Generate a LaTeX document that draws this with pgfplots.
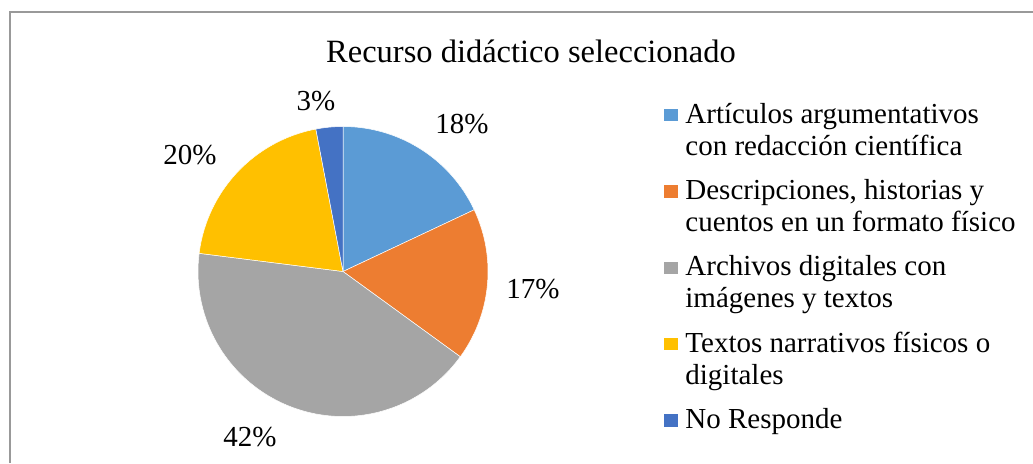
\documentclass[border=0pt]{standalone}
\usepackage{fontspec}
\setmainfont{Liberation Serif}
\usepackage{pgfplots}
\pgfplotsset{compat=1.18}
\usepackage{pgfplotstable}

\definecolor{c1}{HTML}{5B9BD5}
\definecolor{c2}{HTML}{ED7D31}
\definecolor{c3}{HTML}{A5A5A5}
\definecolor{c4}{HTML}{FFC000}
\definecolor{c5}{HTML}{4472C4}

\pgfplotstableread{
value color
18 c1
17 c2
42 c3
20 c4
3 c5
}\piedata

\newcommand{\lab}[1]{\begin{tabular}[t]{@{}l@{}}#1\end{tabular}}

\begin{document}
\begin{tikzpicture}[x=0.5pt,y=0.5pt]
\useasboundingbox (0,0) rectangle (1033,463);
\draw[color=black!40, line width=1pt] (10,0) -- (10,451) -- (1033,451);
\node[anchor=base, inner sep=0pt, font=\fontsize{16.25}{19}\selectfont] at (531,401) {Recurso didáctico seleccionado};
\begin{axis}[
  at={(171.5pt,95.75pt)}, anchor=center,
  scale only axis, width=145pt, height=145pt,
  xmin=-1, xmax=1, ymin=-1, ymax=1,
  hide axis, clip=false,
  legend image code/.code={\fill[#1, draw=none] (0pt,1pt) rectangle (7pt,7.2pt);},
  legend cell align=left,
  legend style={at={(1.607,1.0903)}, anchor=north west, draw=none, fill=none,
    inner sep=0pt, row sep=25.5pt, column sep=3.5pt,
    font=\fontsize{14.5}{16}\selectfont,
    nodes={inner sep=0pt, anchor=base west}},
]
\def\cum{0}
\pgfplotsforeachungrouped \i in {0,...,4}{
  \pgfplotstablegetelem{\i}{color}\of\piedata
  \edef\col{\pgfplotsretval}
  \pgfplotstablegetelem{\i}{value}\of\piedata
  \pgfmathsetmacro\a{90-3.6*(\cum+\pgfplotsretval)}
  \pgfmathsetmacro\b{90-3.6*\cum}
  \pgfmathsetmacro\newcum{\cum+\pgfplotsretval}
  \xdef\cum{\newcum}
  \edef\temp{\noexpand\addplot[fill=\col, draw=white, line width=0.25pt, domain=\a:\b, samples=90, variable=\noexpand\t] ({cos(\noexpand\t)},{sin(\noexpand\t)}) -- (axis cs:0,0) -- cycle;}
  \temp
}
\legend{{\lab{Artículos argumentativos\\con redacción científica}},
        {\lab{Descripciones, historias y\\cuentos en un formato físico}},
        {\lab{Archivos digitales con\\imágenes y textos}},
        {\lab{Textos narrativos físicos o\\digitales}},
        {\lab{No Responde}}}
\begin{scope}[every node/.style={font=\fontsize{14.5}{16}\selectfont, inner sep=0pt}]
\node at (axis cs:0.821,1.017) {18\%};
\node at (axis cs:1.310,-0.121) {17\%};
\node at (axis cs:-0.641,-1.141) {42\%};
\node at (axis cs:-1.055,0.803) {20\%};
\node at (axis cs:-0.186,1.176) {3\%};
\end{scope}
\end{axis}
\end{tikzpicture}
\end{document}
